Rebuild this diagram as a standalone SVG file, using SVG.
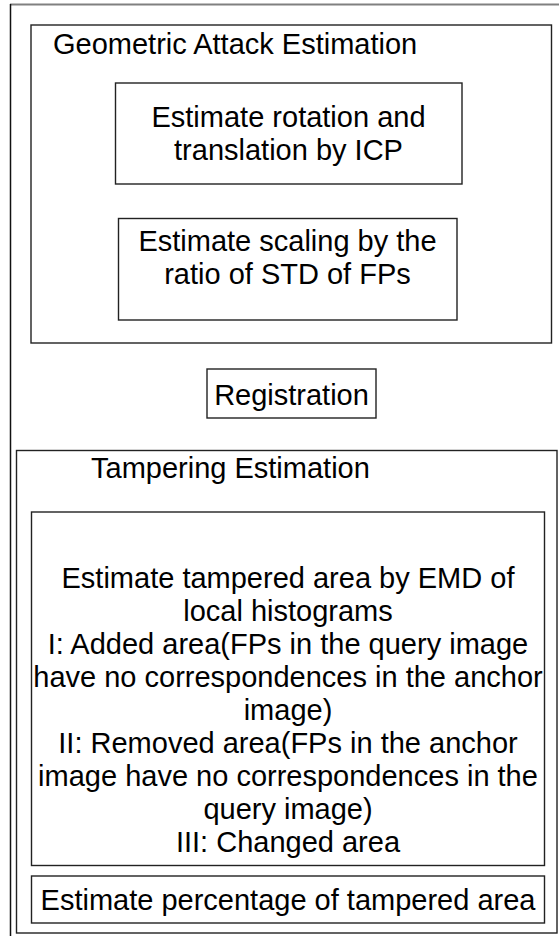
<svg xmlns="http://www.w3.org/2000/svg" width="559" height="936" viewBox="0 0 559 936">
<style>
.box{fill:#fff;stroke:#222;stroke-width:1.4}
.t{font-family:"Liberation Sans",Arial,sans-serif;font-size:29px;fill:#000}
.c{text-anchor:middle}
</style>
<rect width="559" height="936" fill="#fff"/>
<g id="outer-frame">
<line x1="10" y1="4.5" x2="559" y2="4.5" stroke="#808080" stroke-width="2"/>
<line x1="10.5" y1="4" x2="10.5" y2="936" stroke="#111" stroke-width="1.5"/>
</g>
<g id="geometric">
<rect class="box" x="31" y="25" width="520.5" height="318"/>
<text class="t" x="53" y="54">Geometric Attack Estimation</text>
</g>
<g id="icp">
<rect class="box" x="115.5" y="83" width="346.5" height="101"/>
<text class="t c" x="288.5" y="127">Estimate rotation and</text>
<text class="t c" x="288.5" y="160">translation by ICP</text>
</g>
<g id="scaling">
<rect class="box" x="118.5" y="218.5" width="338.5" height="101.5"/>
<text class="t c" x="287.5" y="251">Estimate scaling by the</text>
<text class="t c" x="287.5" y="284">ratio of STD of FPs</text>
</g>
<g id="registration">
<rect class="box" x="207" y="369" width="169" height="49"/>
<text class="t c" x="291.5" y="405">Registration</text>
</g>
<g id="tampering">
<rect class="box" x="16.5" y="450.5" width="540.5" height="482.5"/>
<text class="t" x="91" y="478">Tampering Estimation</text>
</g>
<g id="emd">
<rect class="box" x="31.5" y="512" width="513" height="353.5"/>
<text class="t c" x="288" y="588">Estimate tampered area by EMD of</text>
<text class="t c" x="288" y="621">local histograms</text>
<text class="t c" x="288" y="654">I: Added area(FPs in the query image</text>
<text class="t c" x="288" y="687">have no correspondences in the anchor</text>
<text class="t c" x="288" y="720">image)</text>
<text class="t c" x="288" y="753">II: Removed area(FPs in the anchor</text>
<text class="t c" x="288" y="786">image have no correspondences in the</text>
<text class="t c" x="288" y="819">query image)</text>
<text class="t c" x="288" y="852">III: Changed area</text>
</g>
<g id="percentage">
<rect class="box" x="31.5" y="876" width="513" height="47"/>
<text class="t c" x="288" y="910">Estimate percentage of tampered area</text>
</g>
<g id="connectors"></g>
</svg>
